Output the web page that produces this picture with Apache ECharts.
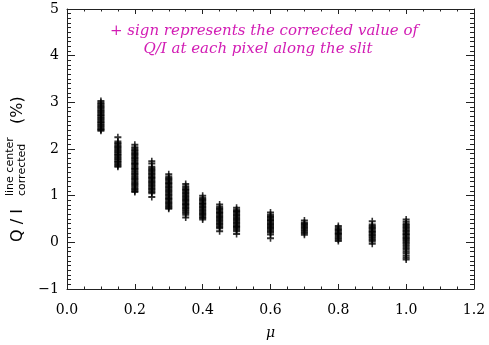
<!DOCTYPE html>
<html>
<head>
<meta charset="utf-8">
<script src="https://cdn.jsdelivr.net/npm/echarts@6/dist/echarts.min.js"></script>
<style>html,body{margin:0;padding:0;background:#fff}#c{width:489px;height:345px}</style>
</head>
<body>
<div id="c"></div>
<script>
// mu positions of each column
const mu = [0.1, 0.15, 0.2, 0.25, 0.3, 0.35, 0.4, 0.45, 0.5, 0.6, 0.7, 0.8, 0.9, 1.0];
// corrected Q/I (%) values at each pixel along the slit, one list per mu
const q010 = [3.03, 2.99, 2.97, 2.94, 2.91, 2.89, 2.86, 2.83, 2.81, 2.78, 2.76, 2.73, 2.71, 2.68, 2.66, 2.63, 2.61, 2.58, 2.56, 2.53, 2.51, 2.48, 2.46, 2.43, 2.41, 2.39];
const q015 = [2.25, 2.16, 2.13, 2.10, 2.07, 2.05, 2.02, 1.99, 1.97, 1.94, 1.92, 1.89, 1.87, 1.84, 1.82, 1.79, 1.77, 1.74, 1.72, 1.69, 1.67, 1.64, 1.62];
const q020 = [2.09, 2.04, 2.01, 1.98, 1.95, 1.92, 1.90, 1.87, 1.84, 1.81, 1.79, 1.76, 1.73, 1.70, 1.68, 1.65, 1.62, 1.59, 1.57, 1.54, 1.51, 1.48, 1.46, 1.43, 1.40, 1.37, 1.35, 1.32, 1.29, 1.26, 1.24, 1.21, 1.18, 1.15, 1.13, 1.10, 1.08];
const q025 = [1.74, 1.69, 1.62, 1.59, 1.56, 1.54, 1.51, 1.48, 1.46, 1.43, 1.40, 1.38, 1.35, 1.32, 1.30, 1.27, 1.24, 1.22, 1.19, 1.16, 1.14, 1.11, 1.08, 1.05, 0.97];
const q030 = [1.46, 1.41, 1.38, 1.35, 1.33, 1.30, 1.27, 1.25, 1.22, 1.19, 1.17, 1.14, 1.11, 1.09, 1.06, 1.03, 1.01, 0.98, 0.95, 0.93, 0.90, 0.87, 0.85, 0.82, 0.79, 0.77, 0.74, 0.72];
const q035 = [1.25, 1.20, 1.17, 1.14, 1.12, 1.09, 1.06, 1.04, 1.01, 0.98, 0.96, 0.93, 0.90, 0.88, 0.85, 0.82, 0.80, 0.77, 0.74, 0.72, 0.69, 0.66, 0.63, 0.59, 0.53];
const q040 = [1.00, 0.95, 0.92, 0.90, 0.87, 0.84, 0.82, 0.79, 0.76, 0.74, 0.71, 0.68, 0.66, 0.63, 0.60, 0.58, 0.55, 0.52, 0.49];
const q045 = [0.81, 0.76, 0.73, 0.71, 0.68, 0.65, 0.63, 0.60, 0.57, 0.55, 0.52, 0.49, 0.47, 0.44, 0.41, 0.39, 0.36, 0.33, 0.30, 0.24];
const q050 = [0.74, 0.70, 0.67, 0.65, 0.62, 0.59, 0.57, 0.54, 0.51, 0.49, 0.46, 0.43, 0.41, 0.38, 0.35, 0.33, 0.30, 0.27, 0.24, 0.18];
const q060 = [0.64, 0.59, 0.56, 0.54, 0.51, 0.48, 0.46, 0.43, 0.40, 0.38, 0.35, 0.32, 0.30, 0.27, 0.24, 0.21, 0.17, 0.09];
const q070 = [0.47, 0.42, 0.40, 0.37, 0.34, 0.32, 0.29, 0.26, 0.23, 0.20, 0.16];
const q080 = [0.35, 0.31, 0.28, 0.26, 0.23, 0.20, 0.18, 0.15, 0.12, 0.09, 0.06, 0.03];
const q090 = [0.45, 0.38, 0.35, 0.32, 0.30, 0.27, 0.24, 0.22, 0.19, 0.16, 0.14, 0.11, 0.08, 0.05, 0.02, -0.03];
const q100 = [0.49, 0.44, 0.40, 0.37, 0.34, 0.32, 0.29, 0.26, 0.24, 0.21, 0.18, 0.16, 0.13, 0.10, 0.08, 0.05, 0.02, -0.01, -0.04, -0.08, -0.12, -0.16, -0.20, -0.24, -0.29, -0.33, -0.37];
const columns = [q010, q015, q020, q025, q030, q035, q040, q045, q050, q060, q070, q080, q090, q100];

const xTicks = [0.0, 0.2, 0.4, 0.6, 0.8, 1.0, 1.2];
const yTicks = [-1, 0, 1, 2, 3, 4, 5];
const annotation = ['+ sign represents the corrected value of', 'Q/I at each pixel along the slit'];

const points = [];
columns.forEach((vals, i) => vals.forEach(v => points.push([mu[i], v])));

const axisColor = '#222';
const labelFont = { fontFamily: 'DejaVu Serif', fontSize: 14, color: '#000' };

function xAxisDef(pos, showLabel) {
  return {
    type: 'value', position: pos, min: 0, max: 1.2, interval: 0.2,
    axisLine: { show: true, onZero: false, lineStyle: { color: axisColor, width: 1 } },
    axisTick: { show: true, inside: true, length: 5, lineStyle: { color: axisColor } },
    minorTick: { show: true, splitNumber: 4, length: 2.5, lineStyle: { color: axisColor } },
    splitLine: { show: false },
    axisLabel: Object.assign({ show: showLabel, margin: 14, formatter: v => v.toFixed(1) }, labelFont),
    name: showLabel ? 'μ' : '', nameLocation: 'middle', nameGap: 37,
    nameTextStyle: { fontFamily: 'DejaVu Serif', fontStyle: 'italic', fontSize: 14, color: '#000' }
  };
}
function yAxisDef(pos, showLabel) {
  return {
    type: 'value', position: pos, min: -1, max: 5, interval: 1,
    axisLine: { show: true, onZero: false, lineStyle: { color: axisColor, width: 1 } },
    axisTick: { show: true, inside: true, length: 8, lineStyle: { color: axisColor } },
    minorTick: { show: true, splitNumber: 10, length: 4, lineStyle: { color: axisColor } },
    splitLine: { show: false },
    axisLabel: Object.assign({ show: showLabel, margin: 8, formatter: v => String(v).replace('-', '−') }, labelFont)
  };
}

const chart = echarts.init(document.getElementById('c'), null, { renderer: 'canvas' });
chart.setOption({
  animation: false,
  backgroundColor: '#fff',
  grid: { left: 67, right: 15, top: 9, bottom: 50, containLabel: false },
  xAxis: [xAxisDef('bottom', true), xAxisDef('top', false)],
  yAxis: [yAxisDef('left', true), yAxisDef('right', false)],
  series: [{
    type: 'scatter', xAxisIndex: 0, yAxisIndex: 0,
    symbol: 'path://M2.7,0 L4.3,0 L4.3,2.5 L7,2.5 L7,4.5 L4.3,4.5 L4.3,7 L2.7,7 L2.7,4.5 L0,4.5 L0,2.5 L2.7,2.5 Z',
    symbolSize: 7,
    itemStyle: { color: '#000' },
    silent: true,
    data: points
  }],
  graphic: [
    { type: 'text', x: 264, y: 31, style: { text: annotation[0], fill: '#d21cb4', font: 'italic 15px "DejaVu Serif"', align: 'center', verticalAlign: 'middle' } },
    { type: 'text', x: 258, y: 49, style: { text: annotation[1], fill: '#d21cb4', font: 'italic 15px "DejaVu Serif"', align: 'center', verticalAlign: 'middle' } },
    { type: 'text', x: 18, y: 242, rotation: Math.PI / 2, style: { text: 'Q / I', fill: '#000', font: '16px "DejaVu Sans"', align: 'left', verticalAlign: 'middle' } },
    { type: 'text', x: 10, y: 196, rotation: Math.PI / 2, style: { text: 'line center', fill: '#000', font: '11px "DejaVu Sans"', align: 'left', verticalAlign: 'middle' } },
    { type: 'text', x: 22, y: 196, rotation: Math.PI / 2, style: { text: 'corrected', fill: '#000', font: '11px "DejaVu Sans"', align: 'left', verticalAlign: 'middle' } },
    { type: 'text', x: 18, y: 124, rotation: Math.PI / 2, style: { text: '(%)', fill: '#000', font: '16px "DejaVu Sans"', align: 'left', verticalAlign: 'middle' } }
  ]
});
</script>
</body>
</html>
